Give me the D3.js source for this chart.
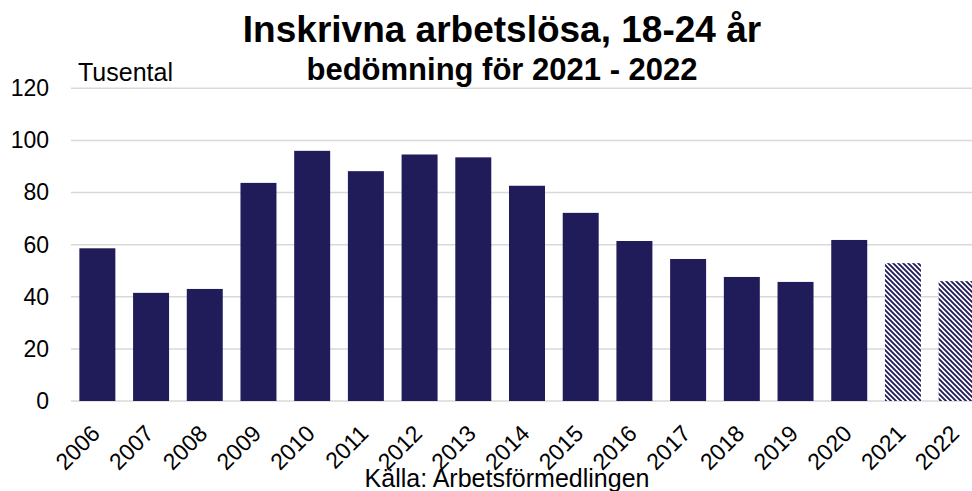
<!DOCTYPE html>
<html>
<head>
<meta charset="utf-8">
<script src="https://cdn.jsdelivr.net/npm/d3@7"></script>
<style>
  body { margin: 0; background: #fff; }
  text { font-family: "Liberation Sans", Arial, sans-serif; fill: #000; }
</style>
</head>
<body>
<div id="chart"></div>
<script>
// data
const years = ["2006","2007","2008","2009","2010","2011","2012","2013","2014","2015","2016","2017","2018","2019","2020","2021","2022"];
const values = [58.6, 41.5, 43.0, 83.7, 96.0, 88.2, 94.6, 93.5, 82.6, 72.2, 61.4, 54.5, 47.6, 45.7, 61.8, 52.9, 46.0];
const forecastYears = ["2021", "2022"];
const yTicks = [0, 20, 40, 60, 80, 100, 120];

const W = 972, H = 491;
const barColor = "#201c5a";

const svg = d3.select("#chart")
    .append("svg")
    .attr("width", W)
    .attr("height", H);

// hatch for the forecast bars
const pat = svg.append("defs").append("pattern")
    .attr("id", "hatch")
    .attr("patternUnits", "userSpaceOnUse")
    .attr("width", 5)
    .attr("height", 5);
pat.append("rect").attr("width", 5).attr("height", 5).attr("fill", "#fff");
pat.append("path")
    .attr("d", "M-1,-1L6,6M-1,4L1,6M4,-1L6,1")
    .attr("stroke", barColor)
    .attr("stroke-width", 1.9);

// scales
const x = d3.scaleBand()
    .domain(years)
    .range([70.5, 983.5])
    .paddingInner(0.33)
    .paddingOuter(0.165);

const y = d3.scaleLinear()
    .domain([0, 120])
    .range([401, 88.3]);

// gridlines
svg.append("g")
    .selectAll("line")
    .data(yTicks)
    .join("line")
    .attr("x1", 71)
    .attr("x2", W)
    .attr("y1", d => y(d))
    .attr("y2", d => y(d))
    .attr("stroke", "#d9d9d9")
    .attr("stroke-width", 1.5);

// y axis
const yAxis = svg.append("g")
    .attr("transform", "translate(71,0)")
    .call(d3.axisLeft(y).tickValues(yTicks).tickSize(0).tickPadding(22));
yAxis.select(".domain").remove();
yAxis.selectAll("text")
    .style("font-size", "23px")
    .style("font-family", "'Liberation Sans', Arial, sans-serif")
    .attr("fill", "#000");

// bars
svg.append("g")
    .selectAll("rect")
    .data(years)
    .join("rect")
    .attr("x", d => x(d))
    .attr("width", x.bandwidth())
    .attr("y", (d, i) => y(values[i]))
    .attr("height", (d, i) => y(0) - y(values[i]))
    .attr("fill", d => forecastYears.includes(d) ? "url(#hatch)" : barColor);

// x axis
const xAxis = svg.append("g")
    .attr("transform", `translate(0,${y(0)})`)
    .call(d3.axisBottom(x).tickSize(0));
xAxis.select(".domain").remove();
xAxis.selectAll("text")
    .attr("x", 0)
    .attr("y", 0)
    .attr("dy", 0)
    .attr("text-anchor", "end")
    .attr("transform", "translate(4,34) rotate(-45)")
    .style("font-size", "23px")
    .style("font-family", "'Liberation Sans', Arial, sans-serif")
    .attr("fill", "#000");

// titles
svg.append("text")
    .attr("x", 502)
    .attr("y", 42)
    .attr("text-anchor", "middle")
    .style("font-size", "37px")
    .style("font-weight", "bold")
    .text("Inskrivna arbetslösa, 18-24 år");

svg.append("text")
    .attr("x", 502)
    .attr("y", 80)
    .attr("text-anchor", "middle")
    .style("font-size", "31px")
    .style("font-weight", "bold")
    .text("bedömning för 2021 - 2022");

svg.append("text")
    .attr("x", 78)
    .attr("y", 81)
    .style("font-size", "25px")
    .text("Tusental");

svg.append("text")
    .attr("x", 507)
    .attr("y", 487)
    .attr("text-anchor", "middle")
    .style("font-size", "25px")
    .text("Källa: Arbetsförmedlingen");
</script>
</body>
</html>
